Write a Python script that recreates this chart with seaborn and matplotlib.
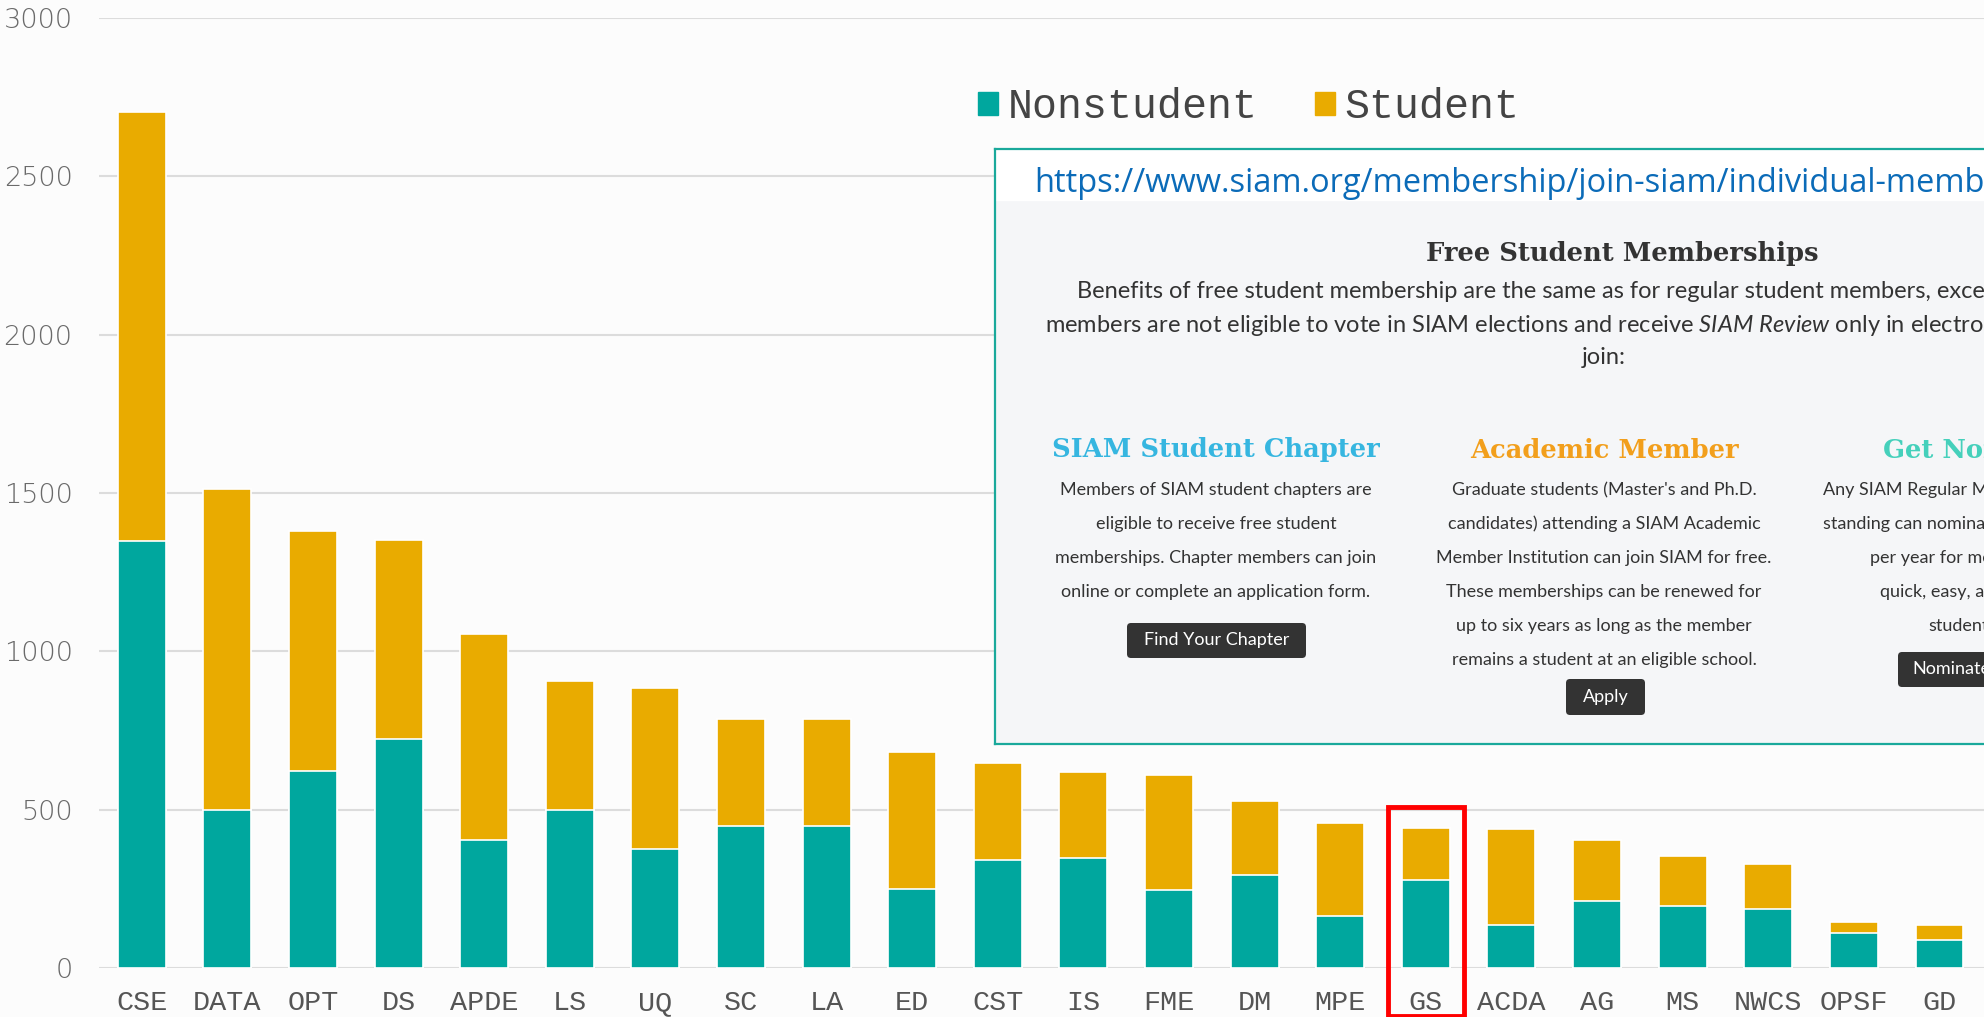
import matplotlib
matplotlib.use('Agg')
import matplotlib.pyplot as plt
from matplotlib.patches import Patch, Rectangle, FancyBboxPatch
import pandas as pd
import seaborn as sns

# activity groups, sorted by total members
groups = ['CSE', 'DATA', 'OPT', 'DS', 'APDE', 'LS', 'UQ', 'SC', 'LA', 'ED', 'CST',
          'IS', 'FME', 'DM', 'MPE', 'GS', 'ACDA', 'AG', 'MS', 'NWCS', 'OPSF', 'GD']
nonstudent = [1350, 500, 622, 722, 403, 498, 377, 449, 449, 249, 340,
              347, 246, 293, 164, 279, 136, 211, 196, 185, 109, 90]
student = [1354, 1012, 758, 630, 653, 408, 507, 337, 337, 432, 308,
           272, 364, 234, 295, 163, 302, 194, 158, 142, 36, 45]
highlight = 'GS'

yticks = [0, 500, 1000, 1500, 2000, 2500, 3000]

TEAL = '#00a79e'
GOLD = '#e9ab00'
BG = '#fcfcfc'
W, H = 1984, 1017

sns.set_style('white')
plt.rcParams['font.family'] = ['DejaVu Sans']
plt.rcParams['mathtext.fontset'] = 'custom'
plt.rcParams['mathtext.rm'] = 'Lato'
plt.rcParams['mathtext.it'] = 'Lato:italic'

df = pd.DataFrame({'group': groups, 'Nonstudent': nonstudent, 'Student': student})
df['total'] = df['Nonstudent'] + df['Student']

fig = plt.figure(figsize=(W / 100, H / 100), dpi=100, facecolor=BG)
ax = fig.add_axes([99 / W, 1 - 968 / H, 1 - 99 / W, (968 - 18) / H])
ax.set_facecolor(BG)

# stacked bars: full height in gold, nonstudent part in teal on top of it
sns.barplot(data=df, x='group', y='total', color=GOLD, saturation=1, width=0.56,
            edgecolor='white', linewidth=1.2, ax=ax)
sns.barplot(data=df, x='group', y='Nonstudent', color=TEAL, saturation=1, width=0.56,
            edgecolor='white', linewidth=1.2, ax=ax)

ax.set_xlim(-0.5, 21.52)
ax.set_ylim(0, 3000)
ax.set_yticks(yticks)
ax.set_xlabel('')
ax.set_ylabel('')
sns.despine(ax=ax, left=True, bottom=True)
ax.yaxis.grid(True, color='#dcdcdc', linewidth=1.5)
ax.set_axisbelow(True)
ax.tick_params(axis='y', length=0, pad=19, labelsize=19.5, labelcolor='#6a6a6a')
ax.tick_params(axis='x', length=0, pad=16, labelsize=20.5, labelcolor='#555555')
for lbl in ax.get_yticklabels():
    lbl.set_fontweight('light')
for lbl in ax.get_xticklabels():
    lbl.set_family('Liberation Mono')

# red frame round the highlighted group
hi = groups.index(highlight)
ax.add_patch(Rectangle((hi - 0.445, -152), 0.89, 660, fill=False, edgecolor='#ff0000',
                       linewidth=3.5, clip_on=False, zorder=5))

fig.legend(handles=[Patch(color=TEAL, label='Nonstudent'), Patch(color=GOLD, label='Student')],
           loc='center left', bbox_to_anchor=(978 / W, 1 - 107 / H), ncol=2, frameon=False,
           prop={'family': 'Liberation Mono', 'size': 30}, labelcolor='#444444',
           handlelength=0.48, handleheight=0.48, handletextpad=0.24, columnspacing=1.36,
           borderpad=0, borderaxespad=0)

# pasted web page snippet
box = fig.add_axes([995 / W, 1 - 744 / H, (W - 995) / W, (744 - 149) / H])
box.set_xlim(995, W)
box.set_ylim(744, 149)
box.set_facecolor('#f5f6f8')
box.set_xticks([])
box.set_yticks([])
for side, sp in box.spines.items():
    sp.set_color('#1aa99b')
    sp.set_linewidth(1.6)
box.spines['right'].set_visible(False)
box.axhspan(149, 200, color='white', zorder=0)

TXT = '#333333'
box.text(1034, 183, 'https://www.siam.org/membership/join-siam/individual-membership',
         family='Open Sans', size=23.5, color='#0b6bb8', va='center', ha='left', clip_on=True)
box.text(1622, 254, 'Free Student Memberships', family='DejaVu Serif', weight='bold',
         size=18.5, color=TXT, ha='center', va='center', clip_on=True)
box.text(1077, 292, 'Benefits of free student membership are the same as for regular student '
         'members, except free student', family='Lato', size=17, color=TXT,
         ha='left', va='center', clip_on=True)
box.text(1045, 325, r'members are not eligible to vote in SIAM elections and receive '
         r'$\mathit{SIAM\ Review}$ only in electronic format.', family='Lato', size=17,
         color=TXT, ha='left', va='center', clip_on=True)
box.text(1604, 358, 'join:', family='Lato', size=17, color=TXT,
         ha='center', va='center', clip_on=True)

heads = [('SIAM Student Chapter', 1216, '#36b6e0'),
         ('Academic Member', 1604, '#f29f1c'),
         ('Get Nominated', 1992, '#45d0bb')]
for txt, cx, col in heads:
    box.text(cx, 450, txt, family='DejaVu Serif', weight='bold', size=18.5, color=col,
             ha='center', va='center', clip_on=True)

col1 = ['Members of SIAM student chapters are', 'eligible to receive free student',
        'memberships. Chapter members can join', 'online or complete an application form.']
col2 = ["Graduate students (Master's and Ph.D.", 'candidates) attending a SIAM Academic',
        'Member Institution can join SIAM for free.', 'These memberships can be renewed for',
        'up to six years as long as the member', 'remains a student at an eligible school.']
col3 = [('Any SIAM Regular Member in good', 1823), ('standing can nominate two students', 1823),
        ('per year for membership. It is', 1870), ('quick, easy, and free for the', 1880),
        ('students.', 1928)]
for i, line in enumerate(col1):
    box.text(1216, 490 + 34 * i, line, family='Lato', size=13, color=TXT,
             ha='center', va='center', clip_on=True)
for i, line in enumerate(col2):
    box.text(1604, 490 + 34 * i, line, family='Lato', size=13, color=TXT,
             ha='center', va='center', clip_on=True)
for i, (line, x0) in enumerate(col3):
    box.text(x0, 490 + 34 * i, line, family='Lato', size=13, color=TXT,
             ha='left', va='center', clip_on=True)

buttons = [('Find Your Chapter', 1127, 623, 179, 35),
           ('Apply', 1566, 679, 79, 36),
           ('Nominate', 1898, 652, 120, 35)]
for txt, x0, y0, bw, bh in buttons:
    box.add_patch(FancyBboxPatch((x0, y0), bw, bh, boxstyle='round,pad=0,rounding_size=4',
                                 facecolor='#333333', edgecolor='none', clip_on=True))
    box.text(x0 + 14 if txt == 'Nominate' else x0 + bw / 2, y0 + bh / 2, txt, family='Lato',
             size=13, color='white', ha='left' if txt == 'Nominate' else 'center',
             va='center', clip_on=True)

fig.savefig('out.png', dpi=100, facecolor=BG)
